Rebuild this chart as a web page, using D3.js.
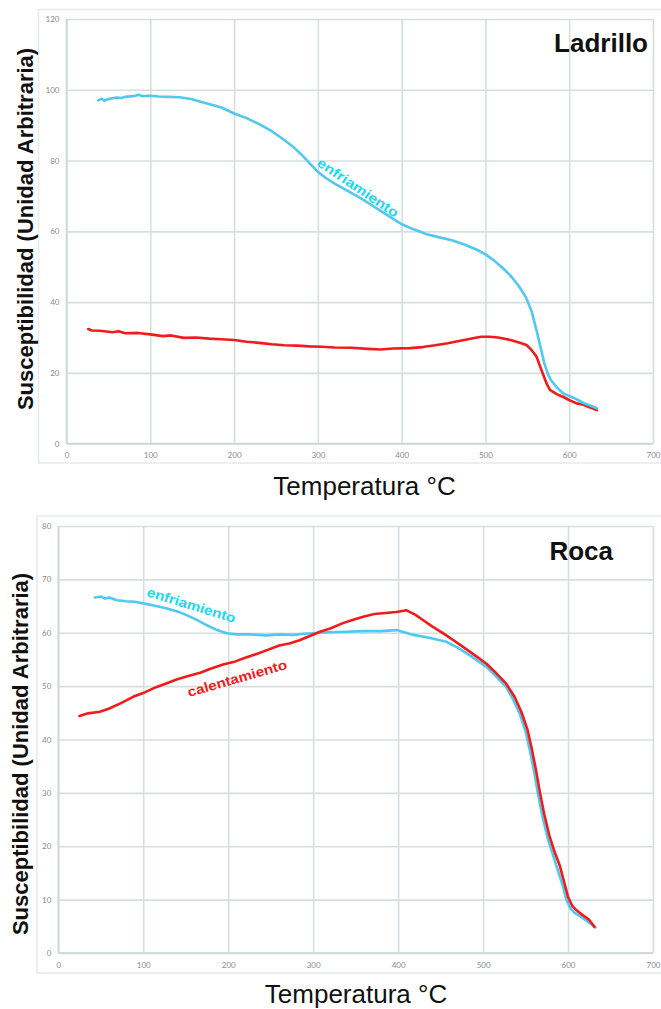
<!DOCTYPE html>
<html>
<head>
<meta charset="utf-8">
<script src="https://cdn.jsdelivr.net/npm/d3@7"></script>
<style>
  html, body { margin: 0; padding: 0; background: #fff; }
  svg { display: block; }
</style>
</head>
<body>
<svg id="chart" width="661" height="1009"></svg>
<script>
// ---------------- DATA ----------------
const xTicks = [0, 100, 200, 300, 400, 500, 600, 700];
const yTicksLadrillo = [0, 20, 40, 60, 80, 100, 120];
const yTicksRoca = [0, 10, 20, 30, 40, 50, 60, 70, 80];

const xTitle = "Temperatura °C";
const yTitle = "Susceptibilidad (Unidad Arbitraria)";
const panelTitles = ["Ladrillo", "Roca"];

// Ladrillo - enfriamiento (cooling): [temperature, susceptibility]
const ladrilloEnfriamiento = [
  [38,97],[42,97.5],[45,96.9],[50,97.4],[55,97.6],[60,97.8],[66,97.7],[70,98],[80,98.2],[86,98.6],[90,98.2],
  [100,98.3],[110,98.1],[120,98],[135,97.9],[150,97.3],[160,96.6],[170,96],[185,95],[200,93.3],
  [215,92],[230,90.3],[245,88.3],[260,85.8],[270,84],[280,81.8],[290,79.3],[300,76.8],[310,75],
  [320,73.5],[335,71.5],[350,69.5],[365,67.3],[380,65],[390,63.5],[400,62],[415,60.5],[430,59.2],
  [445,58.3],[460,57.5],[475,56.3],[490,54.8],[500,53.5],[510,51.8],[520,49.8],[530,47.5],[540,44.5],
  [548,41.5],[555,37.5],[561,32],[566,27],[570,23],[574,20],[578,18],[585,16],[593,14.2],[605,13],
  [617,11.5],[625,10.8],[633,10]
];
// Ladrillo - calentamiento (heating)
const ladrilloCalentamiento = [
  [26,32.4],[30,32],[40,31.9],[55,31.5],[62,31.8],[70,31.2],[85,31.3],[100,30.9],[115,30.4],[125,30.6],
  [140,29.9],[155,30],[170,29.7],[185,29.5],[200,29.3],[215,28.8],[230,28.5],[245,28.1],[260,27.8],
  [275,27.7],[290,27.5],[305,27.4],[320,27.2],[340,27.1],[360,26.8],[375,26.6],[390,26.9],[410,27],
  [425,27.3],[440,27.8],[455,28.4],[470,29.1],[485,29.8],[495,30.2],[505,30.2],[515,30],[530,29.3],
  [541,28.5],[549,27.9],[555,26.5],[561,24.6],[565,22],[569,19.5],[573,17],[577,15.2],[585,14],
  [593,13.2],[601,12.2],[609,11.4],[617,11],[625,10.2],[633,9.5]
];
// Roca - enfriamiento
const rocaEnfriamiento = [
  [43,66.6],[50,66.8],[55,66.4],[60,66.6],[69,66.1],[80,65.9],[90,65.8],[100,65.5],[115,65],[127,64.6],
  [140,64],[151,63.3],[163,62.4],[175,61.4],[187,60.5],[198,59.9],[210,59.7],[225,59.7],[245,59.5],
  [260,59.7],[276,59.6],[290,59.8],[308,60],[320,60.1],[340,60.2],[359,60.3],[380,60.3],[398,60.5],
  [405,60.2],[418,59.6],[435,59.1],[457,58.3],[470,57.2],[484,55.8],[495,54.6],[504,53.6],[515,51.9],
  [527,49.9],[535,47.6],[543,44.9],[550,41.5],[555,38],[560,34],[565,29.5],[570,25.5],[576,21.5],
  [582,18.5],[588,15.5],[594,12.5],[598,10],[603,8.3],[608,7.5],[615,6.8],[622,6],[628,5.3],[632,4.8]
];
// Roca - calentamiento
const rocaCalentamiento = [
  [25,44.4],[35,44.9],[49,45.2],[60,45.8],[75,46.9],[88,48],[100,48.7],[115,49.8],[127,50.5],[140,51.3],
  [155,52],[167,52.5],[180,53.3],[195,54.1],[206,54.5],[220,55.3],[235,56.1],[245,56.7],[260,57.6],
  [272,58],[284,58.6],[296,59.4],[308,60.2],[320,60.8],[335,61.8],[348,62.5],[359,63],[372,63.5],
  [385,63.7],[398,63.9],[410,64.2],[420,63.4],[430,62.3],[440,61.2],[455,59.7],[466,58.5],[476,57.4],
  [490,55.8],[504,54.2],[515,52.5],[527,50.5],[537,48],[545,45.2],[552,42],[557,38.5],[562,34.5],
  [567,30],[572,26],[578,22],[584,19],[590,16.5],[595,13.5],[600,10.5],[605,8.8],[610,8],
  [618,7],[625,6.2],[631,4.9]
];

// ---------------- STYLE ----------------
const CYAN = "#4fc9ee";
const CYAN_TEXT = "#1ad9f2";
const RED = "#f21b1b";
const GRID = "#d6dfe0";
const FRAME = "#e5eaea";
const TICK_TXT = "#8a8a8a";

const svg = d3.select("#chart");

function drawPanel(o) {
  const g = svg.append("g");
  // outer frame
  g.append("rect")
    .attr("x", o.frame[0]).attr("y", o.frame[1])
    .attr("width", o.frame[2] - o.frame[0]).attr("height", o.frame[3] - o.frame[1])
    .attr("fill", "none").attr("stroke", FRAME).attr("stroke-width", 1.5);

  const x = d3.scaleLinear().domain([0, 700]).range([o.left, o.right]);
  const y = d3.scaleLinear().domain([0, o.yMax]).range([o.bottom, o.top]);

  // grid
  const xAxis = d3.axisBottom(x).tickValues(xTicks).tickSize(-(o.bottom - o.top)).tickPadding(9)
    .tickFormat(d3.format("d"));
  const gx = g.append("g").attr("transform", `translate(0,${o.bottom})`).call(xAxis);
  const yAxis = d3.axisLeft(y).tickValues(o.yTicks).tickSize(-(o.right - o.left)).tickPadding(7)
    .tickFormat(d3.format("d"));
  const gy = g.append("g").attr("transform", `translate(${o.left},0)`).call(yAxis);
  [gx, gy].forEach(a => {
    a.select(".domain").remove();
    a.selectAll(".tick line").attr("stroke", GRID).attr("stroke-width", 1.6);
    a.selectAll(".tick text").attr("fill", TICK_TXT)
      .style("font-family", "Lato, 'Liberation Sans', sans-serif").style("font-size", "8px");
  });
  // axis lines (left & bottom) slightly stronger
  g.append("line").attr("x1", o.left).attr("x2", o.left).attr("y1", o.top).attr("y2", o.bottom)
    .attr("stroke", "#cfd9da").attr("stroke-width", 1.8);
  g.append("line").attr("x1", o.left).attr("x2", o.right).attr("y1", o.bottom).attr("y2", o.bottom)
    .attr("stroke", "#cfd9da").attr("stroke-width", 1.8);

  const line = d3.line().x(d => x(d[0])).y(d => y(d[1]));
  o.series.forEach(s => {
    g.append("path").datum(s.data).attr("d", line)
      .attr("fill", "none").attr("stroke", s.color).attr("stroke-width", 2.6)
      .attr("stroke-linejoin", "round").attr("stroke-linecap", "round");
  });

  // curve labels
  o.labels.forEach(l => {
    g.append("text")
      .attr("transform", `translate(${l.x},${l.y}) rotate(${l.angle})`)
      .attr("fill", l.color)
      .style("font-family", "'Liberation Sans', Arial, sans-serif")
      .style("font-weight", "bold").style("font-size", l.size + "px")
      .attr("textLength", l.len).attr("lengthAdjust", "spacingAndGlyphs")
      .text(l.text);
  });

  // panel title
  g.append("text").attr("x", o.titleX).attr("y", o.titleY).attr("text-anchor", "end")
    .style("font-family", "'Liberation Sans', Arial, sans-serif").style("font-weight", "bold")
    .style("font-size", "26px").attr("fill", "#111").text(o.title);

  // x title
  g.append("text").attr("x", o.xTitleX).attr("y", o.xTitleY).attr("text-anchor", "middle")
    .style("font-family", "'Liberation Sans', Arial, sans-serif")
    .style("font-size", "26px").attr("fill", "#111").text(xTitle);

  // y title
  g.append("text").attr("transform", `translate(${o.yTitleX},${o.yTitleY}) rotate(-90)`)
    .attr("text-anchor", "middle")
    .style("font-family", "'Liberation Sans', Arial, sans-serif").style("font-weight", "bold")
    .style("font-size", "22px").attr("fill", "#111").text(yTitle);
}

drawPanel({
  frame: [38.5, 9.5, 672, 463],
  left: 66.5, right: 653, top: 19, bottom: 443.7,
  yMax: 120, yTicks: yTicksLadrillo,
  series: [
    { data: ladrilloCalentamiento, color: RED },
    { data: ladrilloEnfriamiento, color: CYAN }
  ],
  labels: [
    { text: "enfriamiento", x: 316, y: 165, angle: 34, size: 13.5, len: 95, color: CYAN_TEXT }
  ],
  title: panelTitles[0], titleX: 648, titleY: 52,
  xTitleX: 364.5, xTitleY: 495,
  yTitleX: 33, yTitleY: 229
});

drawPanel({
  frame: [37, 516, 672, 973],
  left: 58.3, right: 653, top: 526, bottom: 953,
  yMax: 80, yTicks: yTicksRoca,
  series: [
    { data: rocaEnfriamiento, color: CYAN },
    { data: rocaCalentamiento, color: RED }
  ],
  labels: [
    { text: "enfriamiento", x: 146, y: 596, angle: 17, size: 13.5, len: 92, color: CYAN_TEXT },
    { text: "calentamiento", x: 189, y: 697, angle: -16, size: 13.5, len: 103, color: RED }
  ],
  title: panelTitles[1], titleX: 613, titleY: 560,
  xTitleX: 356, xTitleY: 1003,
  yTitleX: 28, yTitleY: 754
});
</script>
</body>
</html>
